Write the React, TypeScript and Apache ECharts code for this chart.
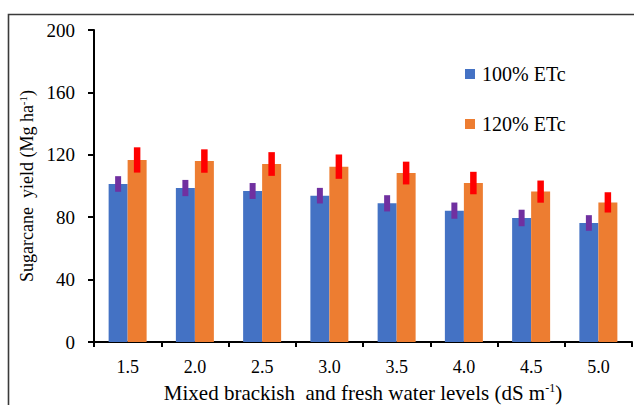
import React, { useEffect, useRef } from "react";
import * as echarts from "echarts";

// Salinity levels of the mixed irrigation water (dS m-1)
const levels = ["1.5", "2.0", "2.5", "3.0", "3.5", "4.0", "4.5", "5.0"];

// Sugarcane yield (Mg ha-1) under two irrigation regimes, with error bars
const yield100 = [101.3, 98.7, 96.8, 93.8, 88.9, 84.2, 79.5, 76.3];
const err100 = [5.0, 5.2, 5.1, 5.0, 5.2, 5.2, 5.3, 5.0];
const yield120 = [116.7, 116.0, 114.1, 112.4, 108.3, 101.9, 96.4, 89.5];
const err120 = [8.1, 7.5, 7.6, 7.8, 7.3, 7.2, 7.1, 6.5];

const yTicks = { min: 0, max: 200, interval: 40 };

const FONT = "'Liberation Serif', 'Times New Roman', serif";
const BAR_W = 19;

function errorSeries(name: string, values: number[], errs: number[], offset: number, color: string, w: number) {
  return {
    name: name + " error",
    type: "custom",
    z: 5,
    data: values.map((v, i) => [i, v, errs[i]]),
    renderItem: (params: any, api: any) => {
      const i = api.value(0);
      const v = api.value(1);
      const e = api.value(2);
      const top = api.coord([i, v + e]);
      const bottom = api.coord([i, v - e]);
      return {
        type: "rect",
        shape: { x: top[0] + offset - w / 2, y: top[1], width: w, height: bottom[1] - top[1] },
        style: { fill: color },
      };
    },
  };
}

export default function App() {
  const ref = useRef<HTMLDivElement>(null);

  useEffect(() => {
    document.body.style.margin = "0";
    const chart = echarts.init(ref.current!, null, { renderer: "svg" });
    chart.setOption({
      animation: false,
      backgroundColor: "#ffffff",
      textStyle: { fontFamily: FONT, color: "#000" },
      graphic: [
        {
          type: "rect",
          shape: { x: 8.5, y: 14.5, width: 700, height: 500 },
          style: { fill: "none", stroke: "#3a3a3a", lineWidth: 1.6 },
          silent: true,
        },
      ],
      grid: { left: 94, right: 2, top: 30, bottom: 63, outerBoundsMode: "none", containLabel: false },
      legend: {
        orient: "vertical",
        left: 465,
        top: 64,
        padding: 0,
        itemWidth: 10,
        itemHeight: 10,
        itemGap: 30,
        icon: "rect",
        data: ["100% ETc", "120% ETc"],
        textStyle: { fontFamily: FONT, fontSize: 20, color: "#000", padding: [0, 0, 0, 2] },
      },
      xAxis: {
        type: "category",
        data: levels,
        name: "Mixed brackish  and fresh water levels (dS m{sup|-1})",
        nameLocation: "middle",
        nameGap: 40,
        nameTextStyle: {
          fontFamily: FONT,
          fontSize: 21,
          color: "#000",
          rich: { sup: { fontFamily: FONT, fontSize: 12, color: "#000", verticalAlign: "top" } },
        },
        axisLine: { lineStyle: { color: "#000", width: 2 } },
        axisTick: { show: true, length: 5, lineStyle: { color: "#000", width: 2 } },
        axisLabel: { fontFamily: FONT, fontSize: 18, color: "#000", margin: 16 },
      },
      yAxis: {
        type: "value",
        min: yTicks.min,
        max: yTicks.max,
        interval: yTicks.interval,
        name: "Sugarcane  yield (Mg ha{sup|-1})",
        nameLocation: "middle",
        nameGap: 50,
        nameTextStyle: {
          fontFamily: FONT,
          fontSize: 18,
          color: "#000",
          rich: { sup: { fontFamily: FONT, fontSize: 11, color: "#000", verticalAlign: "top" } },
        },
        axisLine: { show: true, lineStyle: { color: "#000", width: 2 } },
        axisTick: { show: true, length: 6, lineStyle: { color: "#000", width: 2 } },
        axisLabel: { fontFamily: FONT, fontSize: 19, color: "#000", margin: 19 },
        splitLine: { show: false },
      },
      series: [
        {
          name: "100% ETc",
          type: "bar",
          data: yield100,
          barWidth: BAR_W,
          barGap: "0%",
          itemStyle: { color: "#4472C4" },
        },
        {
          name: "120% ETc",
          type: "bar",
          data: yield120,
          barWidth: BAR_W,
          barGap: "0%",
          itemStyle: { color: "#ED7D31" },
        },
        errorSeries("100% ETc", yield100, err100, -BAR_W / 2, "#7030A0", 6),
        errorSeries("120% ETc", yield120, err120, BAR_W / 2, "#FF0000", 6.5),
      ],
    });
    return () => chart.dispose();
  }, []);

  return <div ref={ref} style={{ width: 634, height: 405 }} />;
}
